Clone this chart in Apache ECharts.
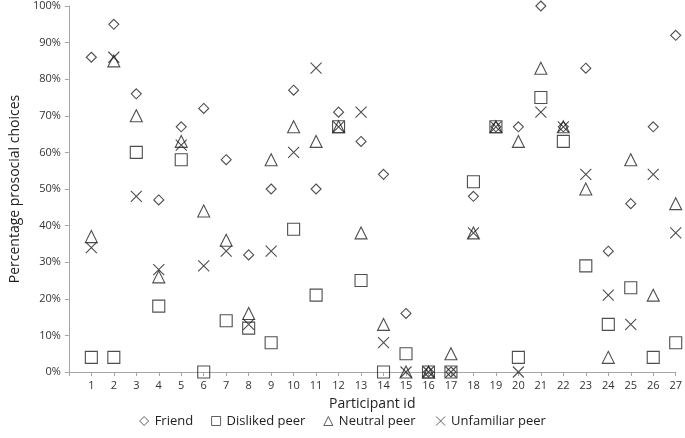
<!DOCTYPE html>
<html><head><meta charset="utf-8">
<script src="https://cdn.jsdelivr.net/npm/echarts@6/dist/echarts.min.js"></script>
<style>html,body{margin:0;padding:0;background:#fff}#c{width:685px;height:438px}</style>
</head><body><div id="c"></div>
<script>
const participants = [1,2,3,4,5,6,7,8,9,10,11,12,13,14,15,16,17,18,19,20,21,22,23,24,25,26,27];
const friend     = [86,95,76,47,67,72,58,32,50,77,50,71,63,54,16,0,0,48,67,67,100,67,83,33,46,67,92];
const disliked   = [4,4,60,18,58,0,14,12,8,39,21,67,25,0,5,0,0,52,67,4,75,63,29,13,23,4,8];
const neutral    = [37,85,70,26,63,44,36,16,58,67,63,67,38,13,0,0,5,38,67,63,83,67,50,4,58,21,46];
const unfamiliar = [34,86,48,28,62,29,33,13,33,60,83,67,71,8,0,0,0,38,67,0,71,67,54,21,13,54,38];
const seriesNames = ['Friend','Disliked peer','Neutral peer','Unfamiliar peer'];

const xPath = 'path://M0,0L10,10M10,0L0,10';
const font = '"Open Sans", "Liberation Sans", sans-serif';
function pts(arr){ return participants.map((p,i)=>[p, arr[i]]); }
function mk(name, arr, symbol, size){
  return {
    name, type:'scatter', data: pts(arr), symbol, symbolSize: size,
    itemStyle:{ color: symbol===xPath ? 'none' : 'rgba(255,255,255,0)', borderColor:'#222', borderWidth:1.1 },
    emphasis:{disabled:true}
  };
}
const chart = echarts.init(document.getElementById('c'), null, {renderer:'canvas'});
chart.setOption({
  animation:false,
  grid:{left:57, right:7, top:6, bottom:66, containLabel:false},
  xAxis:{
    type:'value', min:0, max:27, interval:1,
    name:'Participant id', nameLocation:'middle', nameGap:25,
    nameTextStyle:{fontFamily:font, fontSize:14, color:'#222'},
    axisLine:{show:true, onZero:false, lineStyle:{color:'#a6a6a6'}},
    axisTick:{show:true, length:4, inside:false, lineStyle:{color:'#a6a6a6'}},
    axisLabel:{fontFamily:font, fontSize:11, color:'#333', margin:8,
      formatter:v=> v===0 ? '' : String(v)},
    splitLine:{show:false}
  },
  yAxis:{
    type:'value', min:0, max:100, interval:10,
    name:'Percentage prosocial choices', nameLocation:'middle', nameGap:43,
    nameTextStyle:{fontFamily:font, fontSize:14, color:'#222'},
    axisLine:{show:true, lineStyle:{color:'#a6a6a6'}},
    axisTick:{show:true, length:4, lineStyle:{color:'#a6a6a6'}},
    axisLabel:{fontFamily:font, fontSize:11, color:'#333', formatter:'{value}%', margin:8},
    splitLine:{show:false}
  },
  legend:{
    bottom:5, left:'center', itemGap:18, itemWidth:9, itemHeight:9,
    itemStyle:{borderWidth:0.9},
    textStyle:{fontFamily:font, fontSize:13, color:'#222', padding:[0,0,0,1]},
    data: seriesNames.map(n=>({name:n}))
  },
  series:[
    mk(seriesNames[0], friend, 'diamond', 10),
    mk(seriesNames[1], disliked, 'rect', 12),
    mk(seriesNames[2], neutral, 'triangle', 12),
    mk(seriesNames[3], unfamiliar, xPath, 11)
  ]
});
</script></body></html>
